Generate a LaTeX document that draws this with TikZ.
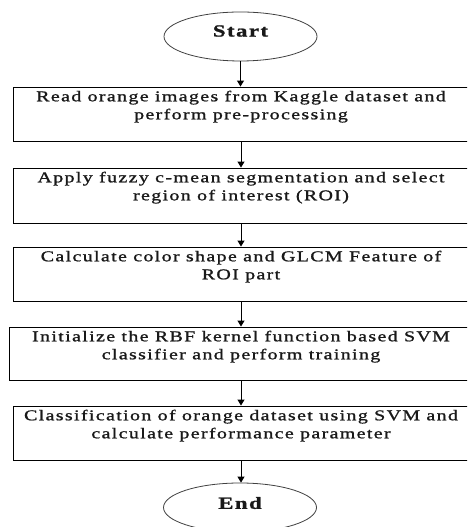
\documentclass[tikz,border=0pt]{standalone}
\usepackage{fontspec}
\setmainfont{Liberation Serif}[FakeStretch=1.33,LetterSpace=9,FakeBold=1.2]
\usetikzlibrary{shapes.geometric,arrows.meta}
\begin{document}
\begin{tikzpicture}[x=1pt,y=1pt,
  stepbox/.style={draw=black,line width=0.9pt,rectangle,inner sep=0pt},
  term/.style={draw=black!75,line width=0.8pt,ellipse,inner sep=0pt,minimum width=153pt,minimum height=49pt},
  txt/.style={font=\fontsize{15}{18}\selectfont,align=center,inner sep=0pt,text=black!90},
  termtxt/.style={font=\fontsize{17}{18}\selectfont\bfseries,inner sep=0pt,text=black!90},
  arr/.style={line width=1pt,-{Triangle[length=6pt,width=7pt]}}]
\useasboundingbox (0,0) rectangle (467,527);
\clip (0,0) rectangle (467,527);
\fill[white] (0,0) rectangle (467,527);
\node[term] (start) at (240.5,490.5) {};
\node[termtxt] (starttxt) at ([yshift=5.5pt]start.center) {Start};
\node[stepbox,minimum width=456pt,minimum height=54pt] (b1) at (241,413) {};
\node[stepbox,minimum width=456pt,minimum height=55pt] (b2) at (241,331.5) {};
\node[stepbox,minimum width=456pt,minimum height=54pt] (b3) at (241,253) {};
\node[stepbox,minimum width=464pt,minimum height=53pt] (b4) at (241,173.5) {};
\node[stepbox,minimum width=456pt,minimum height=54pt] (b5) at (241,94) {};
\node[term] (end) at (240,19.5) {};
\node[termtxt] (endtxt) at ([yshift=4.5pt]end.center) {End};
\node[txt,anchor=north] (t1) at ([yshift=-4pt]b1.north) {Read orange images from Kaggle dataset and\\perform pre-processing};
\node[txt,anchor=north] (t2) at ([yshift=-4pt]b2.north) {Apply fuzzy c-mean segmentation and select\\region of interest (ROI)};
\node[txt,anchor=north] (t3) at ([yshift=-4pt]b3.north) {Calculate color shape and GLCM Feature of\\ROI part};
\node[txt,anchor=north] (t4) at ([yshift=-4pt]b4.north) {Initialize the RBF kernel function based SVM\\classifier and perform training};
\node[txt,anchor=north] (t5) at ([yshift=-4pt]b5.north) {Classification of orange dataset using SVM and\\calculate performance parameter};
\draw[arr] (start.south) -- (start.south |- b1.north);
\draw[arr] (b1.south) -- (b2.north);
\draw[arr] (b2.south) -- (b3.north);
\draw[arr] (b3.south) -- (b4.north);
\draw[arr] (b4.south) -- (b5.north);
\draw[arr] (b5.south) -- (b5.south |- end.north);
\end{tikzpicture}
\end{document}
